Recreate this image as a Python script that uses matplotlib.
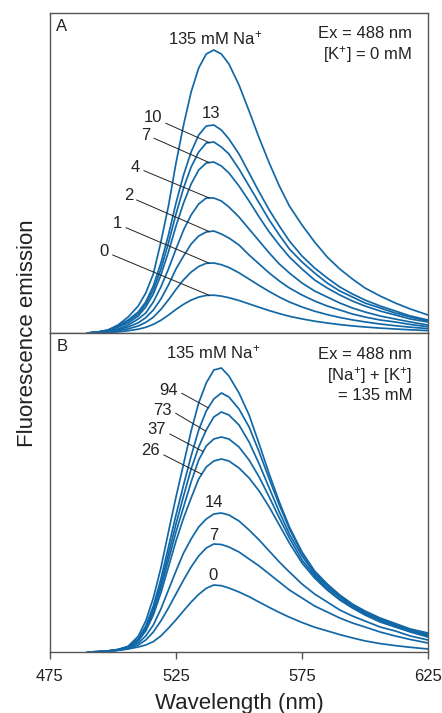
import numpy as np
import matplotlib
matplotlib.use("Agg")
import matplotlib.pyplot as plt

plt.rcParams['font.family'] = ['Liberation Sans', 'DejaVu Sans']
plt.rcParams['mathtext.fontset'] = 'custom'
plt.rcParams['mathtext.rm'] = 'Liberation Sans'
plt.rcParams['mathtext.default'] = 'regular'

wl = [490, 494, 498, 502, 506, 510, 513, 516, 519, 522, 525, 528, 531, 534, 537, 540, 543,
      546, 550, 554, 558, 562, 566, 570, 575, 580, 585, 590, 595, 600, 606, 612, 618, 625]

# Panel A: [K+] = 0, Na+ in mM
na_a = ["135", "13", "10", "7", "4", "2", "1", "0"]
a135 = [0, 1, 3, 8, 16, 27, 40, 59, 91, 127, 170, 208, 241, 265, 279, 283, 279,
        269, 248, 222, 195, 170, 147, 127, 108, 91, 76, 64, 54, 45, 37, 30, 24, 18]
a13 = [0, 1, 3, 7, 13, 21, 31, 47, 70, 98, 130, 158, 181, 198, 207, 208, 203,
       194, 179, 160, 141, 123, 107, 92, 77, 65, 55, 46, 39, 33, 27, 22, 17, 13]
a10 = [0, 1, 2, 6, 12, 19, 29, 43, 64, 90, 119, 145, 166, 181, 190, 191, 186,
       179, 164, 147, 130, 113, 98, 84, 71, 60, 50, 42, 36, 30, 25, 20, 16, 12]
a7 = [0, 1, 2, 6, 10, 17, 26, 39, 58, 81, 107, 130, 149, 163, 170, 171, 167,
      160, 147, 132, 116, 101, 88, 76, 64, 53, 45, 38, 32, 27, 22, 18, 14, 11]
a4 = [0, 1, 2, 4, 8, 14, 20, 31, 46, 64, 84, 103, 118, 129, 135, 135, 132,
      126, 116, 104, 92, 80, 69, 60, 50, 42, 36, 30, 25, 21, 17, 14, 11, 8]
a2 = [0, 0.4, 1.3, 3.3, 6.1, 10.2, 15.3, 23, 34, 48, 64, 77, 89, 97, 101, 102, 99,
      95, 88, 78, 69, 60, 52, 45, 38, 32, 27, 23, 19, 16, 13, 11, 8.5, 6.3]
a1 = [0, 0.3, 0.9, 2.3, 4.2, 7.0, 10.6, 15.8, 23.6, 33.1, 43.6, 53.2, 60.9, 66.5, 69.7, 70.0, 68.3,
      65.5, 60.2, 53.9, 47.5, 41.5, 35.9, 31.0, 26.0, 21.8, 18.4, 15.5, 13.1, 11.1, 9.0, 7.3, 5.8, 4.4]
a0 = [0, 0.2, 0.5, 1.2, 2.3, 3.8, 5.7, 8.6, 12.7, 17.9, 23.6, 28.7, 32.9, 35.9, 37.6, 37.8, 36.9,
      35.3, 32.5, 29.1, 25.7, 22.4, 19.4, 16.7, 14.1, 11.8, 10.0, 8.4, 7.1, 6.0, 4.9, 4.0, 3.2, 2.4]

# Panel B: [Na+] + [K+] = 135 mM, Na+ in mM
na_b = ["135", "94", "73", "37", "26", "14", "7", "0"]
b135 = [0, 0.3, 1.1, 2.6, 5.7, 15.7, 31, 54, 84, 120, 155, 188, 221, 249, 269, 282, 284,
        276, 259, 237, 208, 178, 150, 125, 100, 81, 68, 57, 48, 41, 34, 28.5, 23, 19]
b94 = [0, 0.3, 1.0, 2.4, 5, 13, 26, 46, 73, 105, 137, 167, 196, 222, 241, 253, 259,
       255, 243, 225, 200, 173, 147, 123, 99, 80, 67, 56, 47, 40, 33, 27.5, 22, 18]
b73 = [0, 0.3, 1, 2.3, 5, 12, 24, 42, 68, 98, 128, 156, 183, 205, 222, 235, 240,
       237, 227, 210, 188, 164, 140, 118, 96, 78, 65, 55, 46, 39, 32, 26.5, 21, 17]
b37 = [0, 0.3, 1, 2.2, 5, 12, 23, 40, 64, 92, 120, 145, 170, 192, 206, 213, 215,
       213, 205, 192, 175, 155, 134, 114, 92, 76, 63, 53, 45, 38, 31, 26, 20.5, 16]
b26 = [0, 0.3, 1, 2.2, 5, 11, 21, 37, 59, 85, 111, 134, 154, 173, 185, 191, 193,
       191, 184, 174, 161, 145, 127, 109, 89, 74, 62, 52, 44, 37, 30, 25, 20, 15]
b14 = [0, 0.2, 0.8, 2, 4, 9, 16, 27, 43, 62, 81, 99, 113, 125, 133, 138, 139,
       137, 131, 122, 112, 101, 90, 80, 68, 58, 50, 42, 36, 31, 25, 21, 16, 12]
b7 = [0, 0.2, 0.7, 1.7, 3.5, 7, 12, 20, 31, 44, 58, 72, 85, 96, 104, 108, 107.5,
      105, 100, 93, 86, 78, 70, 62, 54, 46, 40, 34, 29, 25, 20, 16, 12.5, 9]
b0 = [0, 0.1, 0.7, 1.7, 3.0, 5.0, 7.0, 10.4, 16.1, 23.8, 32.2, 41.2, 49.9, 57.6, 63.7, 67.0, 66.3,
      64.0, 60.0, 55.3, 49.9, 44.6, 39.5, 34.8, 29.5, 24.8, 21.1, 17.4, 14.1, 11.1, 8.4, 6.4, 4.7, 3.0]

spec_a = [a135, a13, a10, a7, a4, a2, a1, a0]
spec_b = [b135, b94, b73, b37, b26, b14, b7, b0]

blue = '#1268a6'
txt = '#222222'
spine = '#555555'

fig = plt.figure(figsize=(4.42, 7.13), dpi=100)
axA = fig.add_axes([50/442, 1-333/713, 378/442, 320/713])
axB = fig.add_axes([50/442, 1-652/713, 378/442, 319/713])

for ax, specs, top in [(axA, spec_a, 320), (axB, spec_b, 319)]:
    for s in specs:
        ax.plot(wl, s, color=blue, lw=1.25, solid_joinstyle='round')
    ax.set_xlim(475, 625)
    ax.set_ylim(0, top)
    ax.set_yticks([])
    for sp in ax.spines.values():
        sp.set_color(spine)
        sp.set_linewidth(1.0)

axA.set_xticks([])
axB.set_xticks([475, 525, 575, 625])
axB.tick_params(axis='x', direction='out', length=5, width=1.0, color=spine,
                labelsize=12, labelcolor=txt, pad=7)
axB.set_xlabel("Wavelength (nm)", fontsize=16, color=txt, labelpad=7)
fig.text(28/442, 1-333/713, "Fluorescence emission", rotation=90, fontsize=16,
         color=txt, ha='center', va='center')

fs = 12
# panel A text
axA.text(0.031, 0.957, "A", transform=axA.transAxes, fontsize=fs, color=txt, ha='center', va='center')
axA.text(0.958, 0.937, "Ex = 488 nm", transform=axA.transAxes, fontsize=fs, color=txt, ha='right', va='center')
axA.text(0.958, 0.869, "[K$^{+}$] = 0 mM", transform=axA.transAxes, fontsize=fs, color=txt, ha='right', va='center')
axA.text(540.5, 295, "135 mM Na$^{+}$", fontsize=fs, color=txt, ha='center', va='center')
axA.text(538.9, 220, "13", fontsize=fs, color=txt, ha='center', va='center')

# labels with leader lines ending at the peak of each curve
lab_a = {"10": (515.9, 215, 521.0, 209.7), "7": (513.1, 197, 516.3, 194.7),
         "4": (508.7, 166, 512.3, 162.3), "2": (506.3, 137, 509.4, 133),
         "1": (501.6, 109, 505.2, 105.3), "0": (496.4, 81, 499.9, 78)}
for name, s in zip(na_a, spec_a):
    if name in lab_a:
        tx, ty, lx, ly = lab_a[name]
        axA.text(tx, ty, name, fontsize=fs, color=txt, ha='center', va='center')
        axA.plot([lx, 538.2], [ly, np.interp(538.2, wl, s)], color='#222222', lw=0.7)

# panel B text
axB.text(0.031, 0.957, "B", transform=axB.transAxes, fontsize=fs, color=txt, ha='center', va='center')
axB.text(0.958, 0.934, "Ex = 488 nm", transform=axB.transAxes, fontsize=fs, color=txt, ha='right', va='center')
axB.text(0.958, 0.868, "[Na$^{+}$] + [K$^{+}$]", transform=axB.transAxes, fontsize=fs, color=txt, ha='right', va='center')
axB.text(0.958, 0.803, "= 135 mM", transform=axB.transAxes, fontsize=fs, color=txt, ha='right', va='center')
axB.text(539.8, 299.3, "135 mM Na$^{+}$", fontsize=fs, color=txt, ha='center', va='center')
axB.text(540.2, 149.3, "14", fontsize=fs, color=txt, ha='center', va='center')
axB.text(539.8, 117, "7", fontsize=fs, color=txt, ha='center', va='center')
axB.text(539.8, 76.3, "0", fontsize=fs, color=txt, ha='center', va='center')

lab_b = {"94": (521.9, 261.3, 527.3, 258.7, 537.8), "73": (519.7, 241.3, 524.9, 238.7, 536.8),
         "37": (517.3, 222, 522.6, 218, 535.8), "26": (514.7, 201.3, 520.2, 197, 535.2)}
for name, s in zip(na_b, spec_b):
    if name in lab_b:
        tx, ty, lx, ly, ex = lab_b[name]
        axB.text(tx, ty, name, fontsize=fs, color=txt, ha='center', va='center')
        axB.plot([lx, ex], [ly, np.interp(ex, wl, s)], color='#222222', lw=0.7)

fig.savefig("out.png", dpi=100)
